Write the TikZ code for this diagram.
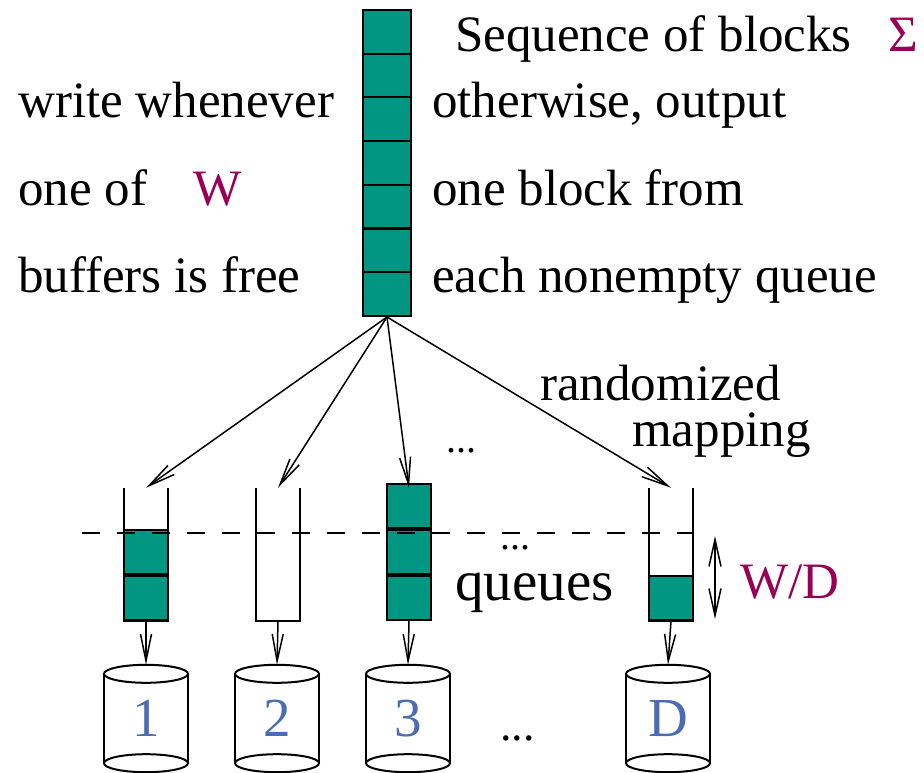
\documentclass[tikz,border=0pt]{standalone}
\usepackage{fontspec}
\setmainfont{Liberation Serif}
\usetikzlibrary{arrows.meta, calc}
\definecolor{cBlk}{HTML}{009682}
\definecolor{cHi}{HTML}{990055}
\definecolor{cNum}{HTML}{4A6CB3}
\tikzset{
    cell/.style  ={draw, line width=2.2pt, fill=cBlk, inner sep=0pt,
                   minimum width=48pt, minimum height=43.7pt},
    qcell/.style ={cell, minimum width=44pt, minimum height=44pt},
    qbox/.style  ={inner sep=0pt, minimum width=44pt, minimum height=133pt},
    wall/.style  ={line width=2pt},
    drum/.style  ={inner sep=0pt, minimum width=84pt, minimum height=107pt,
                   text=cNum, font=\fontsize{55}{60}\selectfont},
    feed/.style  ={-{Straight Barb[length=27pt, width=11pt]}, line width=1.5pt},
    span/.style  ={{Straight Barb[length=27pt, width=12pt]}-{Straight Barb[length=27pt, width=12pt]},
                   line width=1.5pt},
    level/.style ={line width=1.5pt, dash pattern=on 18pt off 17pt},
    txt/.style   ={font=\fontsize{51}{56}\selectfont, inner sep=0pt, anchor=base west},
    hi/.style    ={txt, text=cHi},
    dots/.style  ={font=\fontsize{40}{44}\selectfont, inner sep=0pt, anchor=base west},
}
% disk: name, x, label
\newcommand{\drumat}[3]{%
  \node[drum] (#1) at (#2,718.5) {#3};
  \draw[wall] ($(#1.north)+(0,9)$) ellipse [x radius=42pt, y radius=9pt];
  \draw[wall] ($(#1.south)+(0,-9)$) ellipse [x radius=42pt, y radius=9pt];
  \draw[wall] ($(#1.north west)+(0,9)$) -- ($(#1.south west)+(0,-9)$);
  \draw[wall] ($(#1.north east)+(0,9)$) -- ($(#1.south east)+(0,-9)$);
}

\begin{document}
\begin{tikzpicture}[x=1pt, y=-1pt]
\useasboundingbox (0,0) rectangle (924,773);

% ===================== Sequence of blocks =====================
\foreach \i in {1,...,7}
  \node[cell] (s\i) at (387,{10+43.7*(\i-0.5)}) {};

\node[txt] (seq) at (455,52) {Sequence of blocks};
\node[hi]  (sig) at (888,52) {Σ};

\node[txt] (wl1) at (18,118) {write whenever};
\node[txt] (wl2) at (18,205) {one of};
\node[hi]  (wW)  at (193,205) {W};
\node[txt] (wl3) at (18,292) {buffers is free};

\node[txt] (ol1) at (432,118) {otherwise, output};
\node[txt] (ol2) at (432,205) {one block from};
\node[txt] (ol3) at (432,292) {each nonempty queue};

% ===================== Queues =====================
\node[qbox] (q1) at (146,554.5) {};
\node[qbox] (q2) at (278,554.5) {};
\node[qbox] (q3) at (409,554.5) {};
\node[qbox] (qD) at (671,554.5) {};

\node[qcell, anchor=south] (c11) at (q1.south) {};
\node[qcell, anchor=south] (c12) at (c11.north) {};
\node[qcell, anchor=south] (c31) at (q3.south) {};
\node[qcell, anchor=south] (c32) at (c31.north) {};
\node[qcell, anchor=south] (c33) at (c32.north) {};
\node[qcell, anchor=south] (cD1) at (qD.south) {};

\foreach \q in {q1,q2,qD}
  \draw[wall] (\q.north west) |- (\q.south east) -- (\q.north east);

\coordinate (lvl) at (82,533);
\draw[level] (lvl) -- (lvl -| qD.east);

% ===================== Randomized mapping =====================
\foreach \q in {q1,q2,q3,qD}
  \draw[feed] (s7.south) -- (\q.north);

\node[dots] (md) at (446,452) {...};
\node[txt] (rm1) at (540,400) {randomized};
\node[txt] (rm2) at (632,446) {mapping};

\node[dots] (qd) at (500,549) {...};
\node[txt, font=\fontsize{57}{60}\selectfont] (ql) at (455,600) {queues};

\coordinate (wtop) at (715,536);
\coordinate (wbot) at (715,619);
\draw[span] (wtop) -- (wbot);
\node[hi] (wd) at (740,598) {W/D};

% ===================== Disks =====================
\drumat{d1}{146}{1}
\drumat{d2}{277}{2}
\drumat{d3}{408}{3}
\drumat{dD}{668}{D}
\node[dots, font=\fontsize{46}{50}\selectfont] (dd) at (500,740) {...};

\foreach \q/\d in {q1/d1,q2/d2,q3/d3,qD/dD}
  \draw[feed] (\q.south) -- (\d.north);

\end{tikzpicture}
\end{document}
